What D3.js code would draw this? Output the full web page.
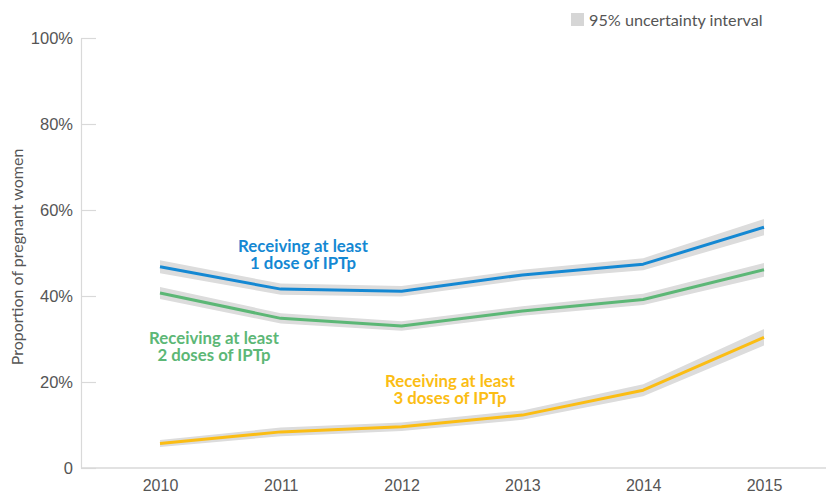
<!DOCTYPE html>
<html>
<head>
<meta charset="utf-8">
<script src="https://cdn.jsdelivr.net/npm/d3@7"></script>
<style>
  html, body { margin: 0; padding: 0; background: #fff; }
  svg { display: block; font-family: Lato, "Open Sans", sans-serif; }
</style>
</head>
<body>
<svg id="chart" width="826" height="494"></svg>
<script>
const years = [2010, 2011, 2012, 2013, 2014, 2015];
const yTicks = [0, 20, 40, 60, 80, 100];

const dose1 = [46.8, 41.6, 41.1, 44.9, 47.4, 56.0];
const dose1Lower = [45.3, 40.3, 39.9, 43.7, 46.0, 54.1];
const dose1Upper = [48.3, 42.9, 42.3, 46.1, 48.8, 57.9];

const dose2 = [40.7, 34.8, 33.0, 36.5, 39.2, 46.1];
const dose2Lower = [39.3, 33.6, 31.9, 35.4, 37.9, 44.5];
const dose2Upper = [42.1, 36.0, 34.1, 37.6, 40.5, 47.7];

const dose3 = [5.7, 8.4, 9.6, 12.3, 18.1, 30.4];
const dose3Lower = [4.9, 7.4, 8.6, 11.2, 16.7, 28.5];
const dose3Upper = [6.5, 9.4, 10.6, 13.4, 19.5, 32.3];

const seriesNames = ["Receiving at least 1 dose of IPTp", "Receiving at least 2 doses of IPTp", "Receiving at least 3 doses of IPTp"];
const labelLines = [
  ["Receiving at least", "1 dose of IPTp"],
  ["Receiving at least", "2 doses of IPTp"],
  ["Receiving at least", "3 doses of IPTp"]
];
const legendLabel = "95% uncertainty interval";
const yTitle = "Proportion of pregnant women";

const colors = ["#1488d3", "#5cb776", "#fbbd14"];
const labelPos = [[303, 251.5], [214, 343.5], [450, 386.5]];

const svg = d3.select("#chart");
const x = d3.scaleLinear().domain([2010, 2015]).range([160, 764]);
const y = d3.scaleLinear().domain([0, 100]).range([468, 38]);
const axisX0 = 81;

// Y axis
const yAxis = d3.axisLeft(y).tickValues(yTicks).tickSizeInner(-15).tickSizeOuter(0).tickPadding(8)
  .tickFormat(d => d === 0 ? "0" : d + "%");
const gy = svg.append("g").attr("transform", `translate(${axisX0},0)`).call(yAxis);
gy.select(".domain").attr("stroke", "#d9d9d9").attr("stroke-width", 1.2);
gy.selectAll(".tick line").attr("stroke", "#d9d9d9").attr("stroke-width", 1.2);
gy.selectAll(".tick text").attr("fill", "#555").style("font-size", "16.5px").attr("dy", "0.35em");

// X axis
svg.append("line").attr("x1", axisX0).attr("x2", 826).attr("y1", y(0)).attr("y2", y(0))
  .attr("stroke", "#d9d9d9").attr("stroke-width", 1.5);
const xAxis = d3.axisBottom(x).tickValues(years).tickSize(0).tickPadding(12).tickFormat(d3.format("d"));
const gx = svg.append("g").attr("transform", `translate(0,${y(0)})`).call(xAxis);
gx.select(".domain").remove();
gx.selectAll(".tick text").attr("fill", "#555").style("font-size", "16px");

// Y title
svg.append("text")
  .attr("transform", `translate(23,257) rotate(-90)`)
  .attr("text-anchor", "middle")
  .attr("fill", "#555")
  .style("font-size", "16px")
  .text(yTitle);

// Bands and lines
const series = [
  { v: dose1, lo: dose1Lower, hi: dose1Upper },
  { v: dose2, lo: dose2Lower, hi: dose2Upper },
  { v: dose3, lo: dose3Lower, hi: dose3Upper }
];
const area = d3.area().x(d => x(d.year)).y0(d => y(d.lo)).y1(d => y(d.hi));
const line = d3.line().x(d => x(d.year)).y(d => y(d.v));

series.forEach((s, i) => {
  const pts = years.map((yr, j) => ({ year: yr, v: s.v[j], lo: s.lo[j], hi: s.hi[j] }));
  svg.append("path").datum(pts).attr("d", area).attr("fill", "#dcdcdc");
});
series.forEach((s, i) => {
  const pts = years.map((yr, j) => ({ year: yr, v: s.v[j] }));
  svg.append("path").datum(pts).attr("d", line).attr("fill", "none")
    .attr("stroke", colors[i]).attr("stroke-width", 3).attr("stroke-linejoin", "round");
});

// Labels
labelLines.forEach((lines, i) => {
  const t = svg.append("text")
    .attr("text-anchor", "middle")
    .attr("fill", colors[i])
    .style("font-size", "16.8px")
    .style("font-weight", "bold")
    .attr("aria-label", seriesNames[i]);
  lines.forEach((ln, k) => {
    t.append("tspan").attr("x", labelPos[i][0]).attr("y", labelPos[i][1] + k * 17.5).text(ln);
  });
});

// Legend
svg.append("rect").attr("x", 571).attr("y", 13).attr("width", 13).attr("height", 13).attr("fill", "#d6d6d6");
svg.append("text").attr("x", 589).attr("y", 26).attr("fill", "#555").style("font-size", "16.2px").text(legendLabel);
</script>
</body>
</html>
